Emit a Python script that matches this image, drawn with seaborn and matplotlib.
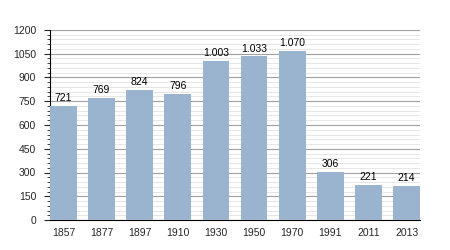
import matplotlib
matplotlib.use("Agg")
import matplotlib.pyplot as plt
import seaborn as sns
import pandas as pd
from matplotlib.ticker import MultipleLocator

years = ["1857", "1877", "1897", "1910", "1930", "1950", "1970", "1991", "2011", "2013"]
population = [721, 769, 824, 796, 1003, 1033, 1070, 306, 221, 214]
labels = ["721", "769", "824", "796", "1.003", "1.033", "1.070", "306", "221", "214"]
yticks = [0, 150, 300, 450, 600, 750, 900, 1050, 1200]

sns.set_style("white")
plt.rcParams['font.family'] = ['Liberation Sans', 'DejaVu Sans']

df = pd.DataFrame({"year": years, "pop": population})
fig = plt.figure(figsize=(4.5, 2.5), dpi=100)
ax = fig.add_axes([50/450, 30/250, 370/450, 190/250])
sns.barplot(data=df, x="year", y="pop", color="#9ab3cf", saturation=1, width=0.7,
            linewidth=0, edgecolor="none", ax=ax, zorder=3)

ax.set_ylim(0, 1200)
ax.set_xlim(-0.35, 9.35)
ax.set_yticks(yticks)
ax.yaxis.set_minor_locator(MultipleLocator(30))
ax.grid(axis="y", which="major", color="#a0a0a0", linewidth=0.8, zorder=0)
ax.grid(axis="y", which="minor", color="#e2e2e2", linewidth=0.6, zorder=0)
ax.set_axisbelow(True)
for s in ["top", "right"]:
    ax.spines[s].set_visible(False)
ax.spines["left"].set_color("black")
ax.spines["bottom"].set_color("black")
ax.spines["left"].set_linewidth(0.8)
ax.spines["bottom"].set_linewidth(0.8)
ax.tick_params(axis="y", which="major", left=True, length=4, width=0.8, labelsize=7.5, pad=6)
ax.tick_params(axis="y", which="minor", left=True, length=2.5, width=0.6)
ax.tick_params(axis="x", which="both", bottom=False, labelsize=7.5, pad=2)
ax.set_xlabel("")
ax.set_ylabel("")

for i, (v, t) in enumerate(zip(population, labels)):
    ax.text(i, v + 18, t, ha="center", va="bottom", fontsize=7.5, color="black")

fig.savefig("out.png", dpi=100)
